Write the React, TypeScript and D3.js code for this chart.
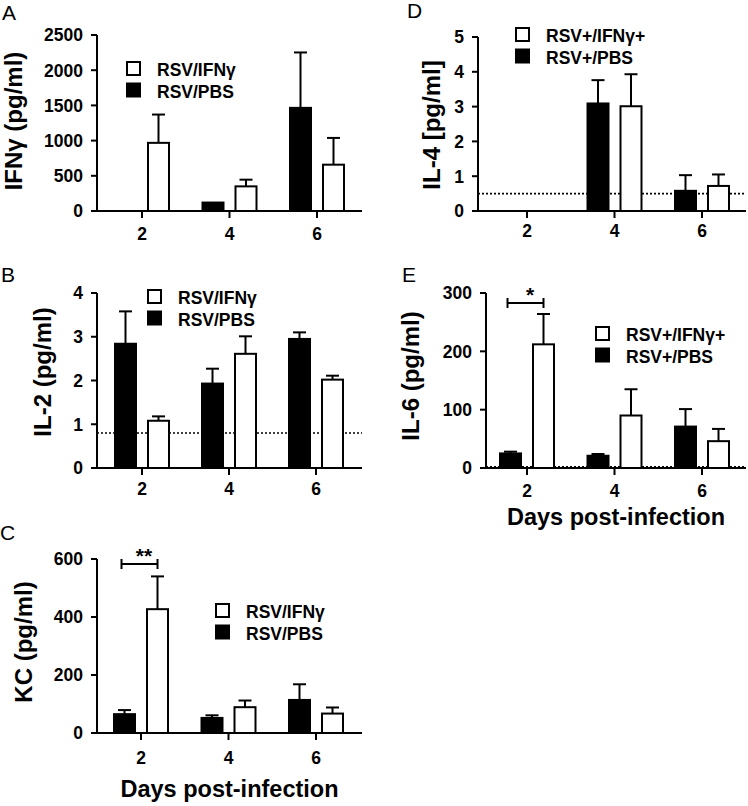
import React from "react";
import * as d3 from "d3";

const days = [2, 4, 6];

// Panel A: IFN-gamma
const ifnPBS = [0, 120, 1465];
const ifnPBSErr = [0, 120, 2252];
const ifnIFN = [968, 350, 658];
const ifnIFNErr = [1370, 445, 1038];
const ifnTicks = [0, 500, 1000, 1500, 2000, 2500];

// Panel B: IL-2
const il2PBS = [2.84, 1.93, 2.95];
const il2PBSErr = [3.58, 2.27, 3.1];
const il2IFN = [1.08, 2.61, 2.02];
const il2IFNErr = [1.18, 3.01, 2.11];
const il2Ticks = [0, 1, 2, 3, 4];

// Panel C: KC
const kcPBS = [65, 52, 114];
const kcPBSErr = [79, 61, 168];
const kcIFN = [427, 89, 67];
const kcIFNErr = [540, 112, 88];
const kcTicks = [0, 200, 400, 600];

// Panel D: IL-4
const il4PBS = [0, 3.09, 0.58];
const il4PBSErr = [0, 3.76, 1.03];
const il4IFN = [0, 3.01, 0.72];
const il4IFNErr = [0, 3.93, 1.05];
const il4Ticks = [0, 1, 2, 3, 4, 5];

// Panel E: IL-6
const il6PBS = [25, 21, 71];
const il6PBSErr = [28, 24, 101];
const il6IFN = [212, 90, 46];
const il6IFNErr = [264, 135, 67];
const il6Ticks = [0, 100, 200, 300];

const legendAC = ["RSV/IFN\u03b3", "RSV/PBS"];
const legendDE = ["RSV+/IFN\u03b3+", "RSV+/PBS"];
const xTitle = "Days post-infection";

const FONT = "'Liberation Sans', Arial, Helvetica, sans-serif";

type PanelProps = {
  letter: string;
  letterX: number;
  letterY: number;
  yLabel: string;
  yLabelX: number;
  yLabelY: number;
  axisL: number;
  axisR: number;
  x2: number;
  x6: number;
  y0: number;
  yTop: number;
  ticks: number[];
  pbs: number[];
  pbsErr: number[];
  ifn: number[];
  ifnErr: number[];
  legend: string[];
  legX: number;
  legY: number;
  dotted?: number;
  sig?: { label: string; y: number };
  showXTitle?: boolean;
  xTitleY?: number;
  xLabDy: number;
};

function Panel(p: PanelProps) {
  const x = d3.scaleLinear().domain([2, 6]).range([p.x2, p.x6]);
  const yMax = p.ticks[p.ticks.length - 1];
  const y = d3.scaleLinear().domain([0, yMax]).range([p.y0, p.yTop]);
  const off = 16.5;
  const bw = 21;
  const cap = 6.5;

  const bars: React.ReactNode[] = [];
  const errs: React.ReactNode[] = [];
  days.forEach((d, i) => {
    const groups = [
      { v: p.pbs[i], e: p.pbsErr[i], cx: x(d) - off, fill: "#000" },
      { v: p.ifn[i], e: p.ifnErr[i], cx: x(d) + off, fill: "#fff" },
    ];
    groups.forEach((g, j) => {
      if (g.v <= 0) return;
      bars.push(
        <rect
          key={`b${i}${j}`}
          x={g.cx - bw / 2}
          y={y(g.v)}
          width={bw}
          height={p.y0 - y(g.v)}
          fill={g.fill}
          stroke="#000"
          strokeWidth={2}
        />
      );
      if (g.e > g.v) {
        errs.push(
          <g key={`e${i}${j}`} stroke="#000" strokeWidth={2}>
            <line x1={g.cx} x2={g.cx} y1={y(g.v)} y2={y(g.e)} />
            <line x1={g.cx - cap} x2={g.cx + cap} y1={y(g.e)} y2={y(g.e)} />
          </g>
        );
      }
    });
  });

  const midX = (p.axisL + p.axisR) / 2;
  return (
    <g fontFamily={FONT}>
      <text x={p.letterX} y={p.letterY} fontSize={21}>
        {p.letter}
      </text>
      <text
        transform={`translate(${p.yLabelX},${p.yLabelY}) rotate(-90)`}
        textAnchor="middle"
        fontSize={24}
        fontWeight="bold"
      >
        {p.yLabel}
      </text>
      {p.dotted !== undefined && (
        <line
          x1={p.axisL}
          x2={p.axisR}
          y1={y(p.dotted)}
          y2={y(p.dotted)}
          stroke="#000"
          strokeWidth={1.6}
          strokeDasharray="2,2"
        />
      )}
      {bars}
      {errs}
      <g stroke="#000" strokeWidth={2}>
        <line x1={p.axisL} x2={p.axisL} y1={p.y0 + 1} y2={p.yTop} />
        <line x1={p.axisL} x2={p.axisR} y1={p.y0} y2={p.y0} />
        {p.ticks.map((t) => (
          <line key={t} x1={p.axisL - 6} x2={p.axisL} y1={y(t)} y2={y(t)} />
        ))}
        {days.map((d) => (
          <line key={d} x1={x(d)} x2={x(d)} y1={p.y0} y2={p.y0 + 7} />
        ))}
      </g>
      {p.ticks.map((t) => (
        <text
          key={t}
          x={p.axisL - 14}
          y={y(t)}
          dy="0.36em"
          textAnchor="end"
          fontSize={17.5}
          fontWeight="bold"
        >
          {t}
        </text>
      ))}
      {days.map((d) => (
        <text
          key={d}
          x={x(d)}
          y={p.y0 + p.xLabDy}
          textAnchor="middle"
          fontSize={17.5}
          fontWeight="bold"
        >
          {d}
        </text>
      ))}
      {p.legend.map((l, i) => (
        <g key={l}>
          <rect
            x={p.legX + 1}
            y={p.legY + i * 21.5 + 1}
            width={13}
            height={13}
            fill={i === 0 ? "#fff" : "#000"}
            stroke="#000"
            strokeWidth={2}
          />
          <text
            x={p.legX + 31}
            y={p.legY + i * 21.5 + 15}
            fontSize={17.5}
            fontWeight="bold"
          >
            {l}
          </text>
        </g>
      ))}
      {p.sig && (
        <g>
          <g stroke="#000" strokeWidth={2}>
            <line x1={x(2) - off - 3} x2={x(2) + off} y1={p.sig.y} y2={p.sig.y} />
            <line x1={x(2) - off - 3} x2={x(2) - off - 3} y1={p.sig.y - 5} y2={p.sig.y + 5} />
            <line x1={x(2) + off} x2={x(2) + off} y1={p.sig.y - 5} y2={p.sig.y + 5} />
          </g>
          <text
            x={x(2) + 3}
            y={p.sig.y - 1}
            textAnchor="middle"
            fontSize={21}
            fontWeight="bold"
          >
            {p.sig.label}
          </text>
        </g>
      )}
      {p.showXTitle && (
        <text
          x={midX}
          y={p.xTitleY}
          textAnchor="middle"
          fontSize={23.5}
          fontWeight="bold"
        >
          {xTitle}
        </text>
      )}
    </g>
  );
}

export default function App() {
  return (
    <svg
      width={748}
      height={806}
      viewBox="0 0 748 806"
      style={{ position: "absolute", left: 0, top: 0, background: "#fff" }}
    >
      <rect width={748} height={806} fill="#fff" />
      <Panel
        letter="A" letterX={2} letterY={20}
        yLabel={"IFN\u03b3 (pg/ml)"} yLabelX={22} yLabelY={121}
        axisL={97} axisR={362} x2={142} x6={317} y0={211} yTop={35}
        ticks={ifnTicks} pbs={ifnPBS} pbsErr={ifnPBSErr} ifn={ifnIFN} ifnErr={ifnIFNErr}
        legend={legendAC} legX={126} legY={61} xLabDy={29}
      />
      <Panel
        letter="B" letterX={1} letterY={282}
        yLabel="IL-2 (pg/ml)" yLabelX={51} yLabelY={372}
        axisL={97} axisR={362} x2={142} x6={316} y0={468} yTop={293}
        ticks={il2Ticks} pbs={il2PBS} pbsErr={il2PBSErr} ifn={il2IFN} ifnErr={il2IFNErr}
        legend={legendAC} legX={147} legY={289} dotted={0.8} xLabDy={27}
      />
      <Panel
        letter="C" letterX={0} letterY={540}
        yLabel="KC (pg/ml)" yLabelX={32} yLabelY={642}
        axisL={97} axisR={362} x2={141} x6={316} y0={733} yTop={559}
        ticks={kcTicks} pbs={kcPBS} pbsErr={kcPBSErr} ifn={kcIFN} ifnErr={kcIFNErr}
        legend={legendAC} legX={215} legY={603} xLabDy={31}
        sig={{ label: "**", y: 564 }}
        showXTitle xTitleY={797}
      />
      <Panel
        letter="D" letterX={407} letterY={18}
        yLabel="IL-4 [pg/ml]" yLabelX={440} yLabelY={125}
        axisL={478} axisR={746} x2={527} x6={702} y0={211} yTop={37}
        ticks={il4Ticks} pbs={il4PBS} pbsErr={il4PBSErr} ifn={il4IFN} ifnErr={il4IFNErr}
        legend={legendDE} legX={515} legY={27} dotted={0.5} xLabDy={26}
      />
      <Panel
        letter="E" letterX={402} letterY={282}
        yLabel="IL-6 (pg/ml)" yLabelX={419} yLabelY={376}
        axisL={486} axisR={746} x2={527} x6={702} y0={468} yTop={293}
        ticks={il6Ticks} pbs={il6PBS} pbsErr={il6PBSErr} ifn={il6IFN} ifnErr={il6IFNErr}
        legend={legendDE} legX={595} legY={326} dotted={2} xLabDy={29}
        sig={{ label: "*", y: 303 }}
        showXTitle xTitleY={525}
      />
    </svg>
  );
}
